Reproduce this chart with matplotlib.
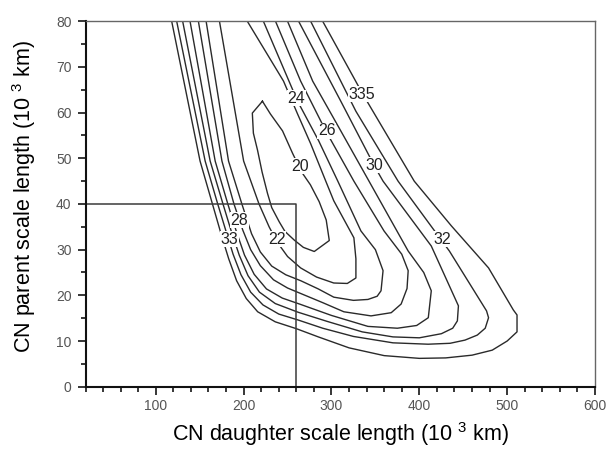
import matplotlib

matplotlib.use("Agg")
import matplotlib.pyplot as plt
from matplotlib.ticker import MultipleLocator

plt.rcParams["font.family"] = ["Liberation Sans", "DejaVu Sans"]
plt.rcParams["mathtext.fontset"] = "custom"
plt.rcParams["mathtext.rm"] = "Liberation Sans"

# contour lines (daughter length, parent length), 10^3 km
c20_x = [221.4, 230.5, 244.3, 255.7, 266.0, 276.0, 286.0, 294.0, 297.5, 280.4, 268.0, 257.6, 247.0, 240.5, 232.0, 227.2, 221.0, 215.8, 211.1, 209.9, 221.4]
c20_y = [62.5, 59.7, 56.0, 51.1, 47.0, 44.2, 40.5, 36.5, 32.0, 29.6, 30.5, 32.1, 34.0, 36.1, 39.2, 42.3, 47.0, 51.8, 55.5, 59.9, 62.5]

c22_x = [172.5, 200.0, 217.5, 229.0, 238.0, 250.0, 264.9, 283.0, 302.6, 318.0, 327.8, 327.8, 325.5, 302.6, 293.5, 276.3, 261.4, 245.4, 204.2]
c22_y = [80.0, 49.4, 40.0, 35.0, 31.7, 28.5, 26.0, 24.0, 22.7, 22.6, 23.8, 28.0, 32.6, 40.7, 45.0, 53.2, 59.7, 66.9, 80.0]

c24_x = [157.3, 182.8, 198.0, 209.0, 219.0, 232.0, 248.0, 265.0, 285.0, 302.6, 325.0, 341.5, 352.0, 356.4, 358.7, 350.0, 333.5, 307.2, 285.5, 261.4, 222.5]
c24_y = [80.0, 49.4, 40.0, 33.5, 29.5, 26.4, 24.5, 23.2, 21.4, 19.6, 18.9, 19.1, 19.8, 21.0, 25.4, 30.0, 34.1, 45.0, 53.8, 62.5, 80.0]

c26_x = [148.5, 175.3, 189.0, 199.0, 208.0, 219.0, 234.0, 250.0, 265.0, 290.0, 314.1, 345.0, 368.0, 379.3, 386.0, 387.3, 380.0, 359.8, 325.5, 293.5, 264.9, 236.3]
c26_y = [80.0, 49.4, 40.0, 34.3, 30.0, 26.5, 23.4, 21.6, 20.4, 18.4, 16.4, 15.5, 16.2, 18.1, 21.5, 25.4, 29.0, 34.1, 45.0, 56.0, 66.9, 80.0]

c28_x = [139.0, 167.6, 182.0, 192.0, 201.0, 212.0, 226.0, 244.0, 265.0, 300.0, 341.5, 375.0, 397.0, 410.2, 413.6, 405.0, 387.3, 342.7, 310.6, 278.6, 250.0]
c28_y = [80.0, 49.4, 40.0, 33.8, 28.8, 24.6, 21.4, 19.4, 18.0, 15.6, 13.2, 12.8, 13.4, 15.1, 21.0, 25.0, 29.7, 45.0, 56.0, 66.9, 80.0]

c30_x = [130.6, 161.9, 176.5, 186.0, 195.0, 205.0, 218.0, 236.0, 262.0, 295.0, 335.0, 370.0, 400.0, 425.1, 438.0, 443.3, 444.5, 413.6, 358.7, 349.5, 310.6, 262.6]
c30_y = [80.0, 49.4, 40.0, 34.0, 28.8, 24.3, 20.7, 18.2, 16.3, 14.3, 12.0, 10.9, 10.7, 11.6, 12.8, 14.4, 17.7, 30.8, 45.0, 48.1, 62.5, 80.0]

c32_x = [123.8, 156.2, 170.5, 180.0, 188.0, 197.0, 208.0, 222.0, 240.0, 262.0, 290.0, 325.0, 370.0, 410.0, 435.0, 452.0, 466.0, 475.0, 478.8, 476.5, 434.2, 375.8, 327.8, 276.3]
c32_y = [80.0, 49.4, 40.0, 34.0, 29.0, 24.5, 20.7, 17.9, 15.9, 14.6, 12.8, 11.0, 9.6, 9.3, 9.5, 10.2, 11.3, 12.8, 15.1, 16.6, 29.7, 45.0, 60.3, 80.0]

c33_x = [118.1, 150.4, 164.5, 175.0, 183.0, 192.0, 203.0, 216.0, 236.0, 260.0, 285.0, 320.0, 360.0, 400.0, 430.0, 460.0, 483.0, 500.0, 511.2, 511.2, 507.0, 478.8, 436.5, 394.2, 335.8, 290.0]
c33_y = [80.0, 49.4, 40.0, 33.0, 28.0, 23.2, 19.3, 16.4, 14.2, 12.7, 10.9, 8.5, 6.8, 6.2, 6.3, 6.9, 8.0, 10.0, 12.0, 15.7, 16.8, 26.0, 35.2, 45.0, 64.0, 80.0]

# contour labels as printed (text, x, y)
label_text = ["24", "26", "20", "335", "30", "32", "28", "33", "22"]
label_x = [260.3, 294.6, 264.5, 334.7, 348.4, 426.6, 195.0, 183.6, 237.9]
label_y = [63.2, 56.0, 48.3, 64.0, 48.5, 32.3, 36.4, 32.3, 32.3]

# marked best-fit corner
best_daughter = 260
best_parent = 40

fig = plt.figure(figsize=(6.06, 4.5), dpi=100)
ax = fig.add_axes([0.1411, 0.1407, 0.8408, 0.812])

for xs, ys in [(c20_x, c20_y), (c22_x, c22_y), (c24_x, c24_y), (c26_x, c26_y),
               (c28_x, c28_y), (c30_x, c30_y), (c32_x, c32_y), (c33_x, c33_y)]:
    ax.plot(xs, ys, color="#2a2a2a", lw=1.0)

for t, x, y in zip(label_text, label_x, label_y):
    ax.text(x, y, t, fontsize=11.5, color="#222222", ha="center", va="center",
            bbox=dict(facecolor="white", edgecolor="none", pad=0.3))

ax.plot([20, best_daughter, best_daughter], [best_parent, best_parent, 0],
        color="#3a3a3a", lw=1.1)

ax.set_xlim(20, 600)
ax.set_ylim(0, 80)
ax.xaxis.set_major_locator(MultipleLocator(100))
ax.xaxis.set_minor_locator(MultipleLocator(20))
ax.yaxis.set_major_locator(MultipleLocator(10))
ax.yaxis.set_minor_locator(MultipleLocator(5))
ax.tick_params(which="both", direction="out", top=False, right=False,
               labelsize=10, labelcolor="#555555", width=1.1)
ax.tick_params(which="major", length=6)
ax.tick_params(which="minor", length=3.5)
ax.tick_params(axis="x", which="major", pad=3)
ax.tick_params(axis="y", which="major", pad=4)

for side in ["left", "bottom"]:
    ax.spines[side].set_linewidth(1.5)
    ax.spines[side].set_color("#111111")
for side in ["top", "right"]:
    ax.spines[side].set_linewidth(1.0)
    ax.spines[side].set_color("#666666")

ax.set_xlabel(r"CN daughter scale length (10 $^3$ km)", fontsize=15.5)
ax.set_ylabel(r"CN parent scale length (10 $^3$ km)", fontsize=15.5)
ax.xaxis.label.set_verticalalignment("bottom")
ax.xaxis.set_label_coords(0.5, -0.168)
ax.yaxis.set_label_coords(-0.094, 0.52)

fig.savefig("out.png", dpi=100)
